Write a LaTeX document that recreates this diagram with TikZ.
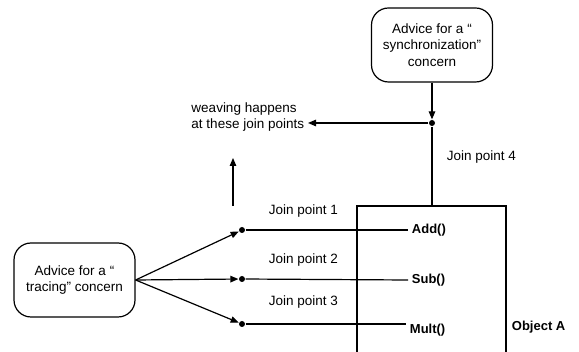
\documentclass[tikz,border=0pt]{standalone}
\usepackage{fontspec}
\setmainfont{Liberation Sans}
\usetikzlibrary{arrows.meta}

\begin{document}
\begin{tikzpicture}[x=1pt,y=-1pt,line width=1.2pt,
  every node/.style={font=\fontsize{13.5}{16.5}\selectfont},
  advice/.style={draw,rounded corners=17pt,align=center,minimum width=121pt,minimum height=74pt,inner sep=0pt},
  jp/.style={circle,fill=black,inner sep=0pt,minimum size=6pt},
  method/.style={anchor=west,font=\fontsize{13}{16.5}\selectfont\bfseries},
  tip/.style={-{Triangle[length=8pt,width=6.5pt]}}]
\useasboundingbox (0,0) rectangle (579,352);

\node (sync) at (432,45) [advice] {Advice for a “\\synchronization”\\concern};
\node (trace) at (74.5,280) [advice] {Advice for a “\\tracing” concern};

\draw (357,352) -- (357,206) -- (506,206) -- (506,352);
\coordinate (top) at (432,206);

\node (jpD) at (432,123) [jp]{};
\node (jpA) at (242,230) [jp]{};
\node (jpB) at (242,279) [jp]{};
\node (jpC) at (242,324) [jp]{};

\node (add) at (408,230) [method]{Add()};
\node (sub) at (408,280) [method]{Sub()};
\node (mult) at (406,330) [method]{Mult()};
\node (obj) at (508,327) [method]{Object A};

\node (weave) at (308,117) [anchor=east,align=left]{weaving happens\\at these join points};
\node (lblA) at (265,211) [anchor=west]{Join point 1};
\node (lblB) at (265,260) [anchor=west]{Join point 2};
\node (lblC) at (265,302) [anchor=west]{Join point 3};
\node (lblD) at (443,157) [anchor=west]{Join point 4};

\coordinate (upS) at (233,206);
\coordinate (upE) at (233,158);

\draw[tip] (sync) -- (jpD);
\draw (jpD) -- (top);
\draw[tip] (jpD) -- (weave.east |- jpD);
\draw[tip] (upS) -- (upE);

\draw[tip] (trace.east) -- (jpA);
\draw[tip] (trace.east) -- (jpB);
\draw[tip] (trace.east) -- (jpC);
\draw (jpA) -- (add.west);
\draw (jpB) -- (sub.west);
\draw (jpC) -- (mult.west |- jpC);

\end{tikzpicture}
\end{document}
